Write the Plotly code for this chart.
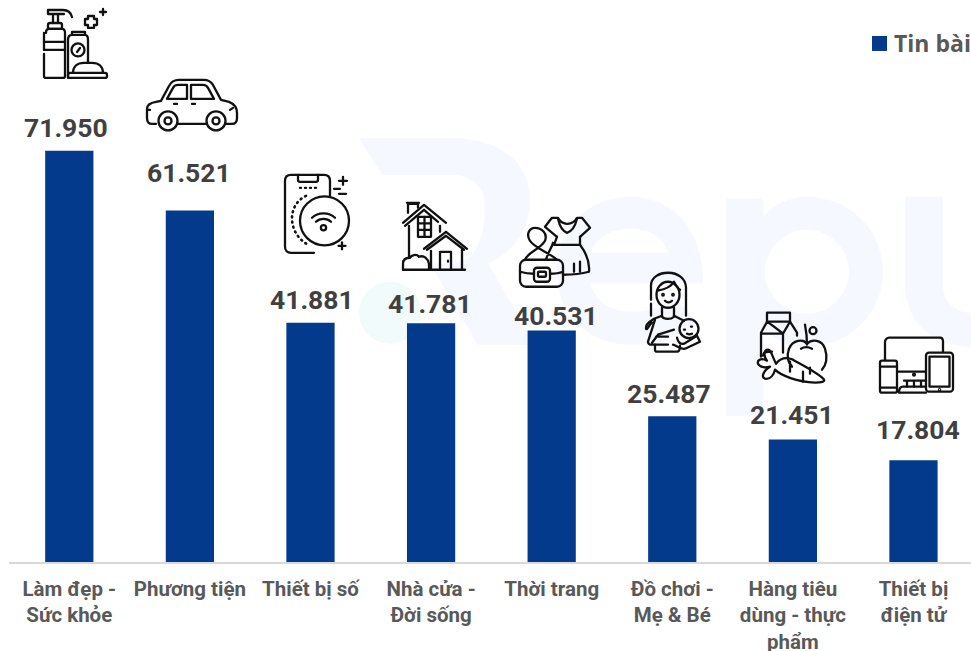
import base64
import plotly.graph_objects as go

categories = ["Làm đẹp -<br>Sức khỏe", "Phương tiện", "Thiết bị số", "Nhà cửa -<br>Đời sống",
              "Thời trang", "Đồ chơi -<br>Mẹ &amp; Bé", "Hàng tiêu<br>dùng - thực<br>phẩm", "Thiết bị<br>điện tử"]
values = [71950, 61521, 41881, 41781, 40531, 25487, 21451, 17804]
legend_label = "Tin bài"

# manual nudges of the value labels relative to their bars (pixels)
label_dx = [-3, -1.3, 1.5, -1.3, 4.5, -3, -1, 5]
label_dy = [23.5, 38, 23, 20, 15, 23, 24.5, 31]

W, H = 971, 651
ML, MB = 9, 88.5
PW, PH = W - ML, H - MB
PX_PER_UNIT = 411.5 / 71950
BLUE = "#033a8c"


def pluses(cx, cy, s):
    return f'<path d="M{cx-s},{cy}H{cx+s}M{cx},{cy-s}V{cy+s}"/>'


def svg_uri(box, body, stroke="#111", sw=2.3):
    x0, y0, x1, y1 = box
    svg = (f'<svg xmlns="http://www.w3.org/2000/svg" width="{x1-x0}" height="{y1-y0}" '
           f'viewBox="{x0} {y0} {x1-x0} {y1-y0}"><g fill="none" stroke="{stroke}" stroke-width="{sw}" '
           f'stroke-linecap="round" stroke-linejoin="round">{body}</g></svg>')
    return "data:image/svg+xml;base64," + base64.b64encode(svg.encode()).decode()


watermark = '''
<g stroke="none" fill="#f5f8ff">
<path fill-rule="evenodd" d="M359,138H450C500,138 530,162 530,200C530,232 512,254 488,263L535,345H478L430,264H450C475,264 485,240 485,205C485,188 472,175 450,175H382Z"/>
<path fill-rule="evenodd" d="M703,283H590C596,303 612,312 632,312C650,312 664,306 675,297L697,322C682,337 660,345 632,345C586,345 557,314 557,271C557,228 588,197 630,197C674,197 703,230 703,283ZM591,253H668C664,238 650,229 630,229C610,229 596,238 591,253Z"/>
<path fill-rule="evenodd" d="M726,199H763V217C775,204 790,197 807,197C849,197 883,230 883,272C883,314 849,347 807,347C788,347 774,340 763,328V416H726ZM807,230C784,230 765,249 765,272C765,295 784,314 807,314C830,314 849,295 849,272C849,249 830,230 807,230Z"/>
<path d="M905,197H943V285C943,305 958,314 980,314V348C935,348 905,325 905,285Z"/>
<circle cx="390" cy="313" r="31" fill="#f1fbfb"/>
</g>'''

icons = [
    ((40, 5, 112, 84), f'''
<path d="M48,10H63C68,10 71,13 72,17M48,14H64M48,10V14M53,14V23M58,14V23"/>
<rect x="48" y="23" width="14" height="6" rx="2"/>
<path d="M46,33C46,30 47,29 49,29H62C64,29 65,30 65,33V76C65,77 64,78 63,78H46C45,78 44,77 44,76V54M44,50V33"/>
<path d="M44,42H65M44,50H65"/>
<path d="M68,78V40C68,37 69,35 72,35H85C87,35 88,37 88,40V63M72,35V32H85V35"/>
<circle cx="78" cy="50" r="6.5"/><path d="M77,52L80,48"/>
<path d="M73,73C73,67 77,63 84,63H92C99,63 103,67 103,73"/>
<rect x="68" y="73" width="39" height="5" rx="2"/>
<path d="M88,16H94V19H97V25H94V28H88V25H85V19H88Z"/>
{pluses(103, 12, 3)}'''),
    ((143, 75, 241, 136), '''
<path d="M156,124H152C149,124 147,122 147,118V109C147,105 150,103 156,102L161,101L169,86C171,82 175,80 179,80H204C208,80 211,82 213,85L221,100L229,102C234,104 237,108 237,113V118C237,122 235,124 232,124H226M206,124H178"/>
<path d="M167,99L173,88C174,86 176,85 178,85H187V99Z"/>
<path d="M191,85H203C205,85 207,86 208,88L214,99H191Z"/>
<path d="M174,104H177M192,104H195M147,110H150M233,108L230,110"/>
<circle cx="168" cy="121" r="9.5"/><circle cx="168" cy="121" r="3.5"/>
<circle cx="216" cy="121" r="9.5"/><circle cx="216" cy="121" r="3.5"/>'''),
    ((280, 171, 353, 257), f'''
<path d="M314,253H291C287,253 285,250 285,247V181C285,177 287,175 291,175H324C328,175 330,177 330,181V196"/>
<path d="M298,175V180C298,181 299,182 300,182H316C317,182 318,181 318,180V175"/>
<circle cx="324.5" cy="221" r="24.5"/>
<path d="M306,196C287,205 287,233 308,245" stroke-dasharray="1 4.2" stroke-width="2.6"/>
<path d="M300,188H316" stroke-dasharray="1 4" stroke-width="2.4"/>
<path d="M312,218C318,212 329,212 335,218M316,222C320,218 327,218 331,222"/>
<circle cx="323.5" cy="228" r="2.6"/>
{pluses(343, 181, 4)}
<path d="M334,189H340M339,194H346"/>
{pluses(342, 246, 3.5)}'''),
    ((398, 199, 471, 274), f'''
<path d="M403,223L424,205L446,223M405,226L424,210L438,222"/>
<path d="M408,213V204H418V208M407,203H419"/>
<path d="M409,226V258M440,226V232"/>
<rect x="418" y="217" width="13" height="20"/>
<path d="M424.5,217V237M418,223.5H431M418,230H431"/>
<path d="M424,249L446,232L467,249M427,250L446,236L464,250"/>
<path d="M431,251V270M462,250V270"/>
<path d="M440,270V252H451V270M448,261V262"/>
<path d="M403,270H465"/>
<path d="M403,270V264C403,260 406,258 410,258C411,255 417,254 419,257C424,255 428,259 429,264V270"/>'''),
    ((516, 214, 594, 291), '''
<rect x="520" y="260" width="43" height="27" rx="6"/>
<path d="M520,272C527,274 529,274 534,274M550,274C555,274 558,274 563,272"/>
<rect x="534" y="268" width="16" height="14" rx="3"/><rect x="538" y="272" width="8" height="5" rx="1"/>
<path d="M525,260C528,252 540,250 545,241C548,233 541,228 535,228C529,228 526,235 530,241C534,248 548,252 557,260M546,260C548,252 552,248 553,243"/>
<path d="M557,237L545,227L552,218H558C561,225 572,227 577,218H582L590,228L580,237"/>
<path d="M558,219C560,228 564,232 567,233C571,232 575,227 577,219"/>
<path d="M557,237L554,245H580L580,237M580,245C586,253 590,262 589,272C582,274 573,275 563,275"/>
<path d="M574,264V272M580,262V272"/>'''),
    ((641, 270, 704, 356), '''
<path d="M651,300V286C651,277 660,273 668,273C678,273 686,279 686,288V316M651,304V316"/>
<ellipse cx="668" cy="295" rx="11.5" ry="13"/>
<path d="M657,291C664,290 671,287 674,282C676,286 677,288 680,290"/>
<circle cx="663" cy="295" r="0.8"/><circle cx="673" cy="295" r="0.8"/>
<path d="M665,301C667,303 670,303 672,301"/>
<path d="M662,308V317C664,320 671,320 674,317V308"/>
<path d="M662,316L654,319C649,322 645,325 646,329C647,331 649,325 652,323"/>
<path d="M674,316L684,321M655,320L648,342C648,344 650,345 652,345H668M652,343L658,335L674,330M656,337H668"/>
<circle cx="689" cy="329" r="9.5"/>
<path d="M684,330H685M691,327H692M687,334C689,335 690,335 692,334"/>
<path d="M677,338C678,342 680,345 684,344L697,336L700,342L685,349C680,350 677,346 673,345"/>
<path d="M655,345V350C655,351 656,352 657,352H677C679,352 680,350 680,346"/>'''),
    ((754, 309, 831, 389), '''
<path d="M767,322V313H790V322M767,322H790"/>
<path d="M767,322L761,333V357M790,322L797,333V336M783,334V353M767,322C772,325 778,330 783,334M761,334H783M783,334L790,322"/>
<path d="M763,356C763,352 767,352 772,352"/>
<path d="M807,344C803,339 793,340 789,349C786,358 789,364 792,367M807,344C812,339 822,340 825,349C828,358 826,366 822,370"/>
<path d="M807,345C807,336 806,330 805,325M801,349C804,347 808,347 812,349"/>
<circle cx="813" cy="331" r="3.5"/>
<path d="M776,364C772,356 771,350 768,350C764,350 763,356 767,361C761,358 757,360 758,364C760,368 766,368 770,367C763,371 761,378 765,379C771,380 774,374 775,370C781,376 797,382 815,383C822,383 825,382 824,380C821,375 805,367 793,360C786,357 780,359 776,364"/>
<path d="M790,362V372M803,372V382M810,368V374"/>'''),
    ((876, 334, 957, 396), '''
<path d="M885,360V342C885,340 887,338 889,338H940C942,338 943,340 943,342V352"/>
<path d="M898,372H926"/>
<rect x="880" y="361" width="17" height="32" rx="2"/>
<path d="M880,367H897M880,388H897"/>
<rect x="926" y="353" width="27" height="39" rx="3"/>
<rect x="929.5" y="357" width="20" height="30"/>
<path d="M907,381V387M914,381V387M921,381V387M904,381H926"/>
<path d="M926,387H903C900,387 899,389 899,393H926"/>
<circle cx="914" cy="375" r="0.9"/><circle cx="939.5" cy="390" r="0.5"/>'''),
]

images = [dict(source=svg_uri((350, 130, 971, 420), watermark), xref="paper", yref="paper",
               x=(350 - ML) / PW, y=1 - 130 / PH, sizex=(971 - 350) / PW, sizey=290 / PH,
               sizing="stretch", xanchor="left", yanchor="top", layer="below")]
for box, body in icons:
    x0, y0, x1, y1 = box
    images.append(dict(source=svg_uri(box, body), xref="paper", yref="paper",
                       x=(x0 - ML) / PW, y=1 - y0 / PH, sizex=(x1 - x0) / PW, sizey=(y1 - y0) / PH,
                       sizing="stretch", xanchor="left", yanchor="top", layer="above"))

fig = go.Figure(go.Bar(
    x=categories, y=values, name=legend_label, width=0.4,
    marker=dict(color=BLUE, line=dict(width=0)),
    cliponaxis=False, showlegend=False,
))

annotations = [dict(text=f"{v:,}".replace(",", "."), x=c, y=v, xref="x", yref="y",
                    xshift=dx, yshift=dy, xanchor="center", yanchor="middle", showarrow=False,
                    font=dict(family="Roboto", size=26.5, color="#404040", weight=700))
               for c, v, dx, dy in zip(categories, values, label_dx, label_dy)]
annotations.append(dict(text=legend_label, xref="paper", yref="paper", x=(892 - ML) / PW, y=1 - 43 / PH,
                        xanchor="left", yanchor="middle", showarrow=False,
                        font=dict(family="Open Sans", size=23, color="#595959", weight=700)))

fig.update_layout(
    width=W, height=H, margin=dict(l=ML, r=0, t=0, b=MB, pad=0, autoexpand=False),
    paper_bgcolor="rgba(255,255,255,0)", plot_bgcolor="rgba(0,0,0,0)",
    images=images, bargap=0.6,
    xaxis=dict(type="category", range=[-0.5, 7.477], showline=True, linecolor="#d9d9d9", linewidth=2,
               ticks="", showgrid=False, tickangle=0, ticklabelstandoff=7,
               tickfont=dict(family="Roboto", size=20.5, color="#595959", weight=700)),
    yaxis=dict(range=[0, PH / PX_PER_UNIT], visible=False, showgrid=False, zeroline=False),
    shapes=[dict(type="rect", xref="paper", yref="paper", x0=(872 - ML) / PW, x1=(887 - ML) / PW,
                 y0=1 - 51 / PH, y1=1 - 36 / PH, fillcolor=BLUE, line=dict(width=0))],
    annotations=annotations,
)
fig.write_html("out.html", config=dict(displayModeBar=False),
               post_script="document.body.style.margin='0';document.documentElement.style.overflow='hidden';")
